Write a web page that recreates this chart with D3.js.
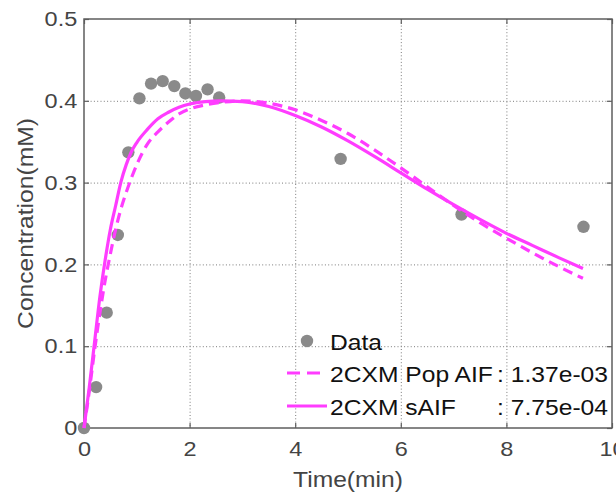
<!DOCTYPE html>
<html>
<head>
<meta charset="utf-8">
<script src="https://cdn.jsdelivr.net/npm/d3@7"></script>
<style>
  html, body { margin: 0; padding: 0; background: #fff; }
  svg { display: block; font-family: "Liberation Sans", Arial, Helvetica, sans-serif; }
</style>
</head>
<body>
<div id="chart"></div>
<script>
// Measured tracer concentration samples
const dataTime = [0, 0.23, 0.43, 0.64, 0.84, 1.05, 1.27, 1.49, 1.71, 1.92, 2.12, 2.34, 2.56, 4.86, 7.15, 9.46];
const dataConc = [0, 0.050, 0.141, 0.236, 0.337, 0.403, 0.421, 0.424, 0.418, 0.409, 0.406, 0.414, 0.404, 0.329, 0.261, 0.246];

// Model fit samples (two-compartment exchange model)
const fitTime   = [0, 0.1, 0.2, 0.3, 0.4, 0.5, 0.6, 0.7, 0.8, 0.9, 1.0, 1.2, 1.4, 1.6, 1.8, 2.0, 2.3, 2.6, 3.0, 3.5, 4.0, 4.5, 5.0, 5.5, 6.0, 6.5, 7.0, 7.5, 8.0, 8.5, 9.0, 9.45];
const fitPopAIF = [0, 0.045, 0.095, 0.140, 0.180, 0.213, 0.243, 0.268, 0.288, 0.306, 0.322, 0.347, 0.362, 0.374, 0.384, 0.390, 0.395, 0.398, 0.400, 0.397, 0.389, 0.376, 0.360, 0.340, 0.318, 0.295, 0.272, 0.251, 0.232, 0.214, 0.197, 0.183];
const fitSAIF   = [0, 0.050, 0.105, 0.160, 0.205, 0.243, 0.272, 0.301, 0.322, 0.338, 0.349, 0.365, 0.378, 0.386, 0.392, 0.396, 0.399, 0.400, 0.399, 0.393, 0.382, 0.368, 0.351, 0.332, 0.312, 0.292, 0.273, 0.255, 0.238, 0.223, 0.208, 0.195];

// Axis ticks
const xTicks = [0, 2, 4, 6, 8, 10];
const xTickLabels = ["0", "2", "4", "6", "8", "10"];
const yTicks = [0, 0.1, 0.2, 0.3, 0.4, 0.5];
const yTickLabels = ["0", "0.1", "0.2", "0.3", "0.4", "0.5"];

// Legend entries
const legendNames  = ["Data", "2CXM Pop AIF", "2CXM sAIF"];
const legendValues = ["", ": 1.37e-03", ": 7.75e-04"];

const W = 616, H = 498;
const plot = { left: 84, right: 612, top: 19, bottom: 428 };
const MAGENTA = "#ff3cff";
const GRAY = "#8a8a8a";
const AXIS = "#5e5e5e";
const LABEL = "#444444";
const SX = 1.12; // horizontal stretch of the text glyphs

const svg = d3.select("#chart").append("svg")
  .attr("width", W).attr("height", H);

const x = d3.scaleLinear().domain([0, 10]).range([plot.left, plot.right]);
const y = d3.scaleLinear().domain([0, 0.5]).range([plot.bottom, plot.top]);

// Dotted grid
const grid = svg.append("g")
  .attr("stroke", "#7a7a7a").attr("stroke-width", 1)
  .attr("stroke-dasharray", "1,2.3");
grid.selectAll("line.gx").data(xTicks.slice(1, -1)).join("line")
  .attr("x1", d => x(d) + 0.5).attr("x2", d => x(d) + 0.5)
  .attr("y1", plot.top).attr("y2", plot.bottom);
grid.selectAll("line.gy").data(yTicks.slice(1, -1)).join("line")
  .attr("x1", plot.left).attr("x2", plot.right)
  .attr("y1", d => y(d) + 0.5).attr("y2", d => y(d) + 0.5);

// Axes with inward ticks on all four sides
function styleAxis(g) {
  g.select(".domain").remove();
  g.selectAll(".tick line").attr("stroke", AXIS).attr("stroke-width", 1.2);
  g.selectAll(".tick text")
    .attr("fill", LABEL)
    .attr("font-size", 21)
    .attr("font-family", "'Liberation Sans', Arial, sans-serif");
}

const xAxis = svg.append("g")
  .attr("transform", `translate(0,${plot.bottom})`)
  .call(d3.axisBottom(x).tickValues(xTicks)
    .tickFormat((d, i) => xTickLabels[i]).tickSize(-5).tickPadding(13))
  .call(styleAxis);
xAxis.selectAll(".tick text").attr("transform", `scale(${SX},1)`);

const yAxis = svg.append("g")
  .attr("transform", `translate(${plot.left},0)`)
  .call(d3.axisLeft(y).tickValues(yTicks)
    .tickFormat((d, i) => yTickLabels[i]).tickSize(-5).tickPadding(6))
  .call(styleAxis);
yAxis.selectAll(".tick text").attr("transform", `scale(${SX},1)`);

svg.append("g")
  .attr("transform", `translate(0,${plot.top})`)
  .call(d3.axisTop(x).tickValues(xTicks).tickFormat("").tickSize(-5))
  .call(styleAxis);
svg.append("g")
  .attr("transform", `translate(${plot.right},0)`)
  .call(d3.axisRight(y).tickValues(yTicks).tickFormat("").tickSize(-5))
  .call(styleAxis);

// Box
svg.append("rect")
  .attr("x", plot.left).attr("y", plot.top)
  .attr("width", plot.right - plot.left).attr("height", plot.bottom - plot.top)
  .attr("fill", "none").attr("stroke", AXIS).attr("stroke-width", 1.5);

// Axis titles
svg.append("text")
  .attr("transform", `translate(${(plot.left + plot.right) / 2},487) scale(${SX},1)`)
  .attr("text-anchor", "middle").attr("font-size", 22).attr("fill", LABEL)
  .text("Time(min)");
svg.append("text")
  .attr("transform", `translate(33,${(plot.top + plot.bottom) / 2}) rotate(-90) scale(${SX},1)`)
  .attr("text-anchor", "middle").attr("font-size", 22).attr("fill", LABEL)
  .text("Concentration(mM)");

// Data points
svg.append("g").selectAll("circle")
  .data(dataTime.map((t, i) => [t, dataConc[i]]))
  .join("circle")
  .attr("cx", d => x(d[0])).attr("cy", d => y(d[1]))
  .attr("r", 6.2).attr("fill", GRAY);

// Fitted curves
const line = d3.line().x(d => x(d[0])).y(d => y(d[1])).curve(d3.curveMonotoneX);
svg.append("path")
  .datum(fitTime.map((t, i) => [t, fitPopAIF[i]]))
  .attr("d", line).attr("fill", "none")
  .attr("stroke", MAGENTA).attr("stroke-width", 3.2)
  .attr("stroke-dasharray", "10,6");
svg.append("path")
  .datum(fitTime.map((t, i) => [t, fitSAIF[i]]))
  .attr("d", line).attr("fill", "none")
  .attr("stroke", MAGENTA).attr("stroke-width", 3.2);

// Legend (no background frame)
const legendRowY = [341, 373, 406];
const legend = svg.append("g");
legend.append("circle").attr("cx", 307).attr("cy", legendRowY[0]).attr("r", 6.2).attr("fill", GRAY);
legend.append("line")
  .attr("x1", 287).attr("x2", 323).attr("y1", legendRowY[1]).attr("y2", legendRowY[1])
  .attr("stroke", MAGENTA).attr("stroke-width", 3.2).attr("stroke-dasharray", "13,7");
legend.append("line")
  .attr("x1", 287).attr("x2", 327).attr("y1", legendRowY[2]).attr("y2", legendRowY[2])
  .attr("stroke", MAGENTA).attr("stroke-width", 3.2);
legendNames.forEach((name, i) => {
  legend.append("text")
    .attr("transform", `translate(330,${legendRowY[i] + 8.5}) scale(${SX},1)`)
    .attr("font-size", 22).attr("fill", "#111")
    .text(name);
  if (legendValues[i]) {
    legend.append("text")
      .attr("transform", `translate(608,${legendRowY[i] + 8.5}) scale(${SX},1)`)
      .attr("text-anchor", "end")
      .attr("font-size", 22).attr("fill", "#111")
      .text(legendValues[i]);
  }
});
</script>
</body>
</html>
